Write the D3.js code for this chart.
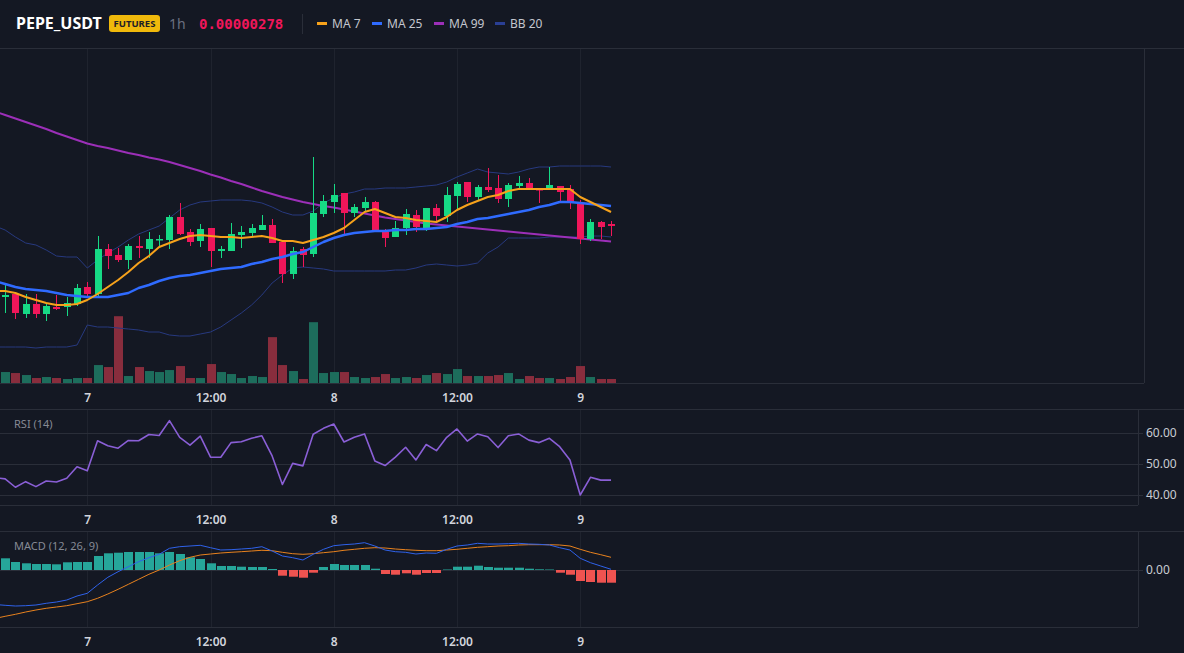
<!DOCTYPE html>
<html>
<head>
<meta charset="utf-8">
<script src="https://cdn.jsdelivr.net/npm/d3@7"></script>
<style>
  html, body { margin: 0; padding: 0; background: #141823; overflow: hidden; }
  svg { display: block; font-family: "Noto Sans", "Open Sans", sans-serif; }
</style>
</head>
<body>
<div id="chart"></div>
<script>
// hourly candles, hour offset from day 7 00:00 (first one is cut by the left edge)
const candleHours = d3.range(-9, 52);

// prices in units of 1e-8 USDT
const open = [270.7, 270.9, 271.2, 269.2, 270.2, 269.2, 269.9, 269.9, 270.2, 271.9, 271.2, 275.7, 275.1, 274.6, 276.0, 275.7, 276.6, 276.6, 278.9, 277.4, 276.5, 277.8, 275.5, 275.5, 277.1, 277.3, 277.6, 278.1, 276.4, 273.2, 275.7, 275.2, 279.2, 280.4, 281.3, 279.3, 279.8, 280.4, 277.4, 276.9, 277.8, 279.1, 277.8, 279.8, 279.0, 281.0, 282.4, 280.9, 281.9, 281.8, 280.7, 282.0, 282.3, 281.7, 281.6, 282.0, 281.7, 280.2, 276.7, 278.4, 278.2];
const high = [272.0, 272.1, 271.3, 271.2, 271.2, 270.2, 271.1, 270.9, 272.2, 272.4, 277.0, 276.2, 275.8, 276.2, 277.0, 277.4, 277.1, 279.1, 280.3, 277.7, 278.2, 277.8, 276.0, 278.3, 278.0, 278.2, 279.1, 278.7, 276.4, 275.9, 275.9, 284.9, 281.1, 282.2, 281.3, 280.2, 280.9, 280.5, 277.7, 278.5, 279.7, 279.6, 279.8, 280.2, 281.9, 282.4, 282.4, 282.1, 283.8, 283.1, 282.3, 283.0, 282.8, 281.8, 283.9, 282.0, 282.1, 280.6, 278.7, 278.5, 278.5];
const low = [270.1, 269.3, 268.7, 268.8, 268.8, 268.5, 269.6, 269.0, 270.0, 270.9, 270.9, 273.7, 274.4, 273.7, 274.8, 274.8, 275.9, 275.7, 277.1, 276.0, 275.9, 273.9, 274.8, 275.5, 275.8, 276.9, 277.6, 276.3, 272.3, 272.7, 273.9, 274.9, 278.9, 279.3, 277.1, 278.9, 279.5, 277.5, 275.9, 276.9, 277.1, 277.4, 277.5, 278.4, 278.4, 279.6, 280.4, 280.6, 281.4, 280.3, 279.9, 281.6, 281.6, 280.3, 281.6, 280.4, 279.7, 276.2, 276.5, 276.7, 277.0];
const close = [271.0, 271.1, 269.3, 270.2, 269.2, 270.0, 269.7, 270.3, 271.8, 271.2, 275.7, 275.0, 274.6, 276.0, 275.8, 276.7, 276.7, 278.9, 277.2, 276.4, 277.7, 275.5, 275.7, 277.2, 277.4, 277.8, 278.1, 276.3, 273.2, 275.5, 275.1, 279.3, 280.5, 281.1, 279.3, 279.9, 280.4, 277.5, 276.8, 277.8, 279.2, 277.9, 279.8, 279.0, 281.1, 282.2, 280.9, 281.9, 281.6, 280.7, 282.1, 282.3, 281.8, 281.6, 282.1, 281.4, 280.4, 276.7, 278.4, 277.9, 278.0];
// volume, hundreds of millions
const volume = [10, 11, 10, 8, 5, 6, 5, 4, 5, 5, 18, 16, 67, 7, 16, 12, 11, 13, 17, 5, 5, 19, 11, 9, 5, 7, 6, 46, 18, 12, 4, 61, 10, 11, 11, 6, 5, 6, 9, 5, 6, 5, 8, 10, 9, 14, 7, 7, 7, 8, 10, 4, 7, 5, 5, 4, 6, 17, 6, 4, 4];

const ma7 = [271.5, 271.5, 271.3, 270.9, 270.6, 270.3, 270.1, 270.1, 270.2, 270.6, 271.2, 271.9, 272.6, 273.4, 274.3, 275.0, 275.9, 276.3, 276.7, 277.0, 277.1, 277.0, 276.9, 276.9, 276.8, 276.9, 277.0, 276.8, 276.5, 276.5, 276.3, 276.6, 276.9, 277.3, 277.8, 278.6, 279.4, 279.7, 279.3, 278.9, 278.8, 278.6, 278.5, 278.4, 278.9, 279.6, 280.1, 280.5, 280.9, 281.1, 281.5, 281.7, 281.7, 281.7, 281.7, 281.7, 281.7, 280.9, 280.4, 279.9, 279.4];
const ma25 = [272.5, 272.2, 271.9, 271.7, 271.6, 271.5, 271.3, 271.1, 271.0, 270.9, 270.9, 270.9, 271.1, 271.3, 271.8, 272.1, 272.5, 272.8, 273.0, 273.1, 273.3, 273.5, 273.7, 273.8, 273.9, 274.2, 274.4, 274.7, 274.9, 275.2, 275.4, 275.9, 276.4, 276.8, 277.1, 277.3, 277.4, 277.5, 277.5, 277.6, 277.6, 277.7, 277.7, 277.8, 277.9, 278.2, 278.4, 278.7, 278.8, 279.0, 279.2, 279.4, 279.6, 279.9, 280.1, 280.4, 280.4, 280.3, 280.2, 280.1, 280.0];
const ma99 = [289.45, 289.1, 288.75, 288.4, 288.05, 287.7, 287.3, 286.95, 286.6, 286.25, 286.0, 285.8, 285.55, 285.3, 285.1, 284.85, 284.65, 284.4, 284.1, 283.8, 283.5, 283.15, 282.85, 282.5, 282.2, 281.85, 281.5, 281.2, 280.9, 280.65, 280.4, 280.2, 280.0, 279.85, 279.65, 279.45, 279.25, 279.05, 278.85, 278.7, 278.55, 278.4, 278.25, 278.15, 278.05, 277.95, 277.85, 277.75, 277.65, 277.55, 277.45, 277.35, 277.25, 277.15, 277.05, 276.95, 276.85, 276.75, 276.65, 276.55, 276.45];
const bbUpper = [278.0, 277.6, 276.9, 276.3, 276.1, 275.6, 275.0, 274.9, 274.9, 273.8, 274.6, 275.3, 275.9, 276.6, 277.2, 277.6, 278.0, 278.8, 279.6, 280.1, 280.4, 280.5, 280.6, 280.6, 280.6, 280.5, 280.3, 279.9, 279.4, 279.1, 279.1, 279.5, 280.3, 280.8, 281.2, 281.4, 281.7, 281.7, 281.8, 281.8, 281.8, 281.9, 282.0, 282.1, 282.4, 282.9, 283.3, 283.7, 283.4, 283.3, 283.2, 283.4, 283.7, 283.9, 283.9, 284.0, 284.0, 284.0, 284.0, 284.0, 283.9];
const bbLower = [265.9, 265.9, 265.9, 265.9, 265.8, 265.9, 265.9, 265.9, 266.1, 268.1, 267.9, 267.9, 267.8, 267.7, 267.6, 267.4, 267.4, 267.1, 267.0, 267.0, 267.2, 267.4, 267.9, 268.6, 269.3, 270.1, 271.1, 272.3, 273.1, 273.8, 273.9, 273.8, 273.7, 273.5, 273.5, 273.5, 273.5, 273.5, 273.5, 273.6, 273.6, 273.8, 274.1, 274.2, 274.1, 274.0, 274.1, 274.3, 275.3, 275.9, 276.8, 276.8, 276.8, 276.8, 276.9, 276.9, 276.9, 276.9, 277.0, 277.0, 276.9];

const rsi = [45.6, 45.2, 42.5, 44.3, 42.7, 44.5, 44.2, 45.4, 49.1, 47.8, 57.5, 55.9, 55.1, 57.6, 57.5, 59.5, 59.2, 64.0, 58.6, 56.1, 59.0, 52.2, 52.2, 56.9, 57.2, 58.3, 59.1, 52.6, 43.4, 50.2, 49.4, 59.6, 61.5, 62.9, 57.1, 58.6, 59.7, 51.0, 49.5, 52.2, 55.4, 51.3, 56.3, 54.3, 58.6, 61.3, 57.4, 59.7, 58.8, 55.3, 59.1, 59.7, 57.7, 56.9, 58.3, 55.6, 51.3, 40.0, 45.7, 44.8, 44.8];

// MACD (12, 26, 9), units of 1e-10
const macd = [-3.45, -3.53, -3.6, -3.57, -3.5, -3.33, -3.2, -3.0, -2.6, -2.33, -1.5, -0.73, -0.17, 0.33, 0.83, 1.23, 1.57, 2.17, 2.33, 2.4, 2.47, 2.23, 2.0, 2.03, 2.1, 2.17, 2.33, 1.9, 1.4, 1.23, 1.0, 1.57, 2.07, 2.43, 2.53, 2.6, 2.73, 2.4, 2.0, 1.83, 1.77, 1.6, 1.7, 1.67, 2.07, 2.4, 2.5, 2.67, 2.6, 2.6, 2.63, 2.67, 2.6, 2.57, 2.5, 2.23, 2.0, 1.17, 0.73, 0.4, 0.07];
const signal = [-4.85, -4.63, -4.43, -4.2, -4.0, -3.83, -3.7, -3.57, -3.37, -3.17, -2.83, -2.4, -1.93, -1.43, -0.93, -0.43, 0.0, 0.5, 0.93, 1.27, 1.5, 1.6, 1.7, 1.77, 1.83, 1.9, 1.97, 1.93, 1.77, 1.63, 1.57, 1.63, 1.73, 1.83, 1.97, 2.07, 2.17, 2.23, 2.2, 2.1, 2.03, 1.97, 1.93, 1.93, 2.0, 2.07, 2.17, 2.27, 2.33, 2.4, 2.43, 2.5, 2.53, 2.53, 2.53, 2.5, 2.4, 2.07, 1.77, 1.53, 1.27];
const hist = [1.2, 1.17, 0.8, 0.67, 0.6, 0.6, 0.57, 0.77, 0.8, 0.8, 1.4, 1.67, 1.73, 1.8, 1.8, 1.8, 1.67, 1.8, 1.6, 1.27, 1.1, 0.67, 0.4, 0.4, 0.33, 0.3, 0.3, 0.1, -0.57, -0.67, -0.77, -0.27, 0.3, 0.6, 0.5, 0.5, 0.5, 0.13, -0.4, -0.47, -0.33, -0.47, -0.3, -0.3, 0.05, 0.33, 0.33, 0.43, 0.3, 0.23, 0.23, 0.23, 0.13, 0.07, 0.05, -0.27, -0.47, -1.1, -1.2, -1.27, -1.27];

const tickHours = [0, 12, 24, 36, 48];
const tickLabels = ["7", "12:00", "8", "12:00", "9"];
const rsiTicks = [40, 50, 60];
const macdTicks = [0];

const legend = [
    {name: "MA 7", color: "#f7a21b"},
    {name: "MA 25", color: "#2f6bff"},
    {name: "MA 99", color: "#9c2fb8"},
    {name: "BB 20", color: "#2a3f94"}
];

const baseTime = new Date(2024, 3, 7, 0, 0);
const toTime = h => new Date(baseTime.getTime() + h * 3600e3);

const width = 1184, height = 653;
const C = {
    bg: "#141823", border: "#2a2e39", grid: "#1f232e", text: "#d1d4dc", muted: "#868a95",
    up: "#16da85", down: "#f0165a", volUp: "#1d6d5c", volDown: "#882d3d",
    histUp: "#26a69a", histDown: "#ef5350"
};

const main = {top: 49, bottom: 383, right: 1144};
const rsiPane = {top: 410, bottom: 505, right: 1138};
const macdPane = {top: 532, bottom: 627, right: 1138};

const rows = candleHours.map((h, i) => ({
    t: toTime(h), o: open[i], h: high[i], l: low[i], c: close[i], v: volume[i],
    ma7: ma7[i], ma25: ma25[i], ma99: ma99[i], up: bbUpper[i], lo: bbLower[i],
    rsi: rsi[i], macd: macd[i], sig: signal[i], hist: hist[i]
}));

const x = d3.scaleTime()
    .domain([toTime(-8.5), toTime(102.9)])
    .range([0, main.right]);

const y = d3.scaleLinear().domain([262.3, 295.7]).range([main.bottom, main.top]);
// volume takes the lowest fifth of the main pane
const yVol = d3.scaleLinear()
    .domain([0, d3.max(volume)])
    .range([main.bottom, main.bottom - (main.bottom - main.top) * 0.2]);
const yRsi = d3.scaleLinear().domain([40, 60]).range([495, 433]);
const yMacd = d3.scaleLinear().domain([-1, 1]).range([580, 560]);

const svg = d3.select("#chart").append("svg")
    .attr("width", width)
    .attr("height", height);

svg.append("rect").attr("width", width).attr("height", height).attr("fill", C.bg);

const defs = svg.append("defs");
function clip(id, p) {
    defs.append("clipPath").attr("id", id)
        .append("rect")
        .attr("x", 0).attr("y", p.top)
        .attr("width", p.right).attr("height", p.bottom - p.top);
    return `url(#${id})`;
}

const tickTimes = tickHours.map(toTime);

function paneFrame(p, fullTop) {
    const g = svg.append("g");
    // vertical grid
    g.selectAll(".vgrid")
        .data(tickTimes)
        .enter().append("line")
        .attr("x1", d => Math.round(x(d)) + 0.5)
        .attr("x2", d => Math.round(x(d)) + 0.5)
        .attr("y1", p.top).attr("y2", p.bottom)
        .attr("stroke", C.grid);

    g.append("line")
        .attr("x1", 0).attr("x2", fullTop ? width : p.right)
        .attr("y1", p.top - 0.5).attr("y2", p.top - 0.5)
        .attr("stroke", C.border);
    g.append("line")
        .attr("x1", p.right + 0.5).attr("x2", p.right + 0.5)
        .attr("y1", p.top).attr("y2", p.bottom)
        .attr("stroke", C.border);
    g.append("line")
        .attr("x1", 0).attr("x2", p.right)
        .attr("y1", p.bottom + 0.5).attr("y2", p.bottom + 0.5)
        .attr("stroke", C.border);

    // time labels under the pane
    const ax = svg.append("g")
        .attr("transform", `translate(0,${p.bottom})`)
        .call(d3.axisBottom(x)
            .tickValues(tickTimes)
            .tickFormat((d, i) => tickLabels[i])
            .tickSize(0)
            .tickPadding(10));
    ax.select(".domain").remove();
    ax.selectAll("text")
        .attr("fill", C.text)
        .style("font-size", "12px")
        .style("font-weight", 600)
        .style("font-family", "'Noto Sans', sans-serif");
    return g;
}

function rightAxis(p, scale, ticks) {
    svg.append("g").selectAll(".hgrid")
        .data(ticks)
        .enter().append("line")
        .attr("x1", 0).attr("x2", p.right)
        .attr("y1", d => Math.round(scale(d)) + 0.5)
        .attr("y2", d => Math.round(scale(d)) + 0.5)
        .attr("stroke", C.border);

    const ax = svg.append("g")
        .attr("transform", `translate(${p.right},0)`)
        .call(d3.axisRight(scale)
            .tickValues(ticks)
            .tickFormat(d3.format(".2f"))
            .tickSize(5)
            .tickPadding(3));
    ax.select(".domain").remove();
    ax.selectAll("line").attr("stroke", C.border);
    ax.selectAll("text")
        .attr("fill", "#c9ccd3")
        .style("font-size", "12px")
        .style("font-family", "'Noto Sans', sans-serif");
}

// ---------- header ----------
svg.append("line")
    .attr("x1", 0).attr("x2", width)
    .attr("y1", 48.5).attr("y2", 48.5)
    .attr("stroke", C.border);

svg.append("text")
    .attr("x", 16).attr("y", 29)
    .attr("fill", "#ffffff")
    .style("font-size", "16px")
    .style("font-weight", 700)
    .text("PEPE_USDT");

svg.append("rect")
    .attr("x", 109).attr("y", 15)
    .attr("width", 51).attr("height", 17)
    .attr("rx", 3)
    .attr("fill", "#f0b90b");
svg.append("text")
    .attr("x", 134.5).attr("y", 27)
    .attr("text-anchor", "middle")
    .attr("fill", "#1e2026")
    .style("font-size", "9.5px")
    .style("font-weight", 700)
    .text("FUTURES");

svg.append("text")
    .attr("x", 169).attr("y", 29)
    .attr("fill", "#6b7080")
    .style("font-size", "14px")
    .text("1h");

svg.append("text")
    .attr("x", 199).attr("y", 29)
    .attr("fill", C.down)
    .style("font-family", "'DejaVu Sans Mono', monospace")
    .style("font-size", "14px")
    .style("font-weight", 700)
    .text("0.0000" + "0278");

svg.append("line")
    .attr("x1", 302.5).attr("x2", 302.5)
    .attr("y1", 14).attr("y2", 34)
    .attr("stroke", C.border);

const legendX = [317, 372, 434, 495];
const lg = svg.append("g").selectAll(".legend")
    .data(legend)
    .enter().append("g")
    .attr("transform", (d, i) => `translate(${legendX[i]},0)`);
lg.append("rect")
    .attr("x", 0).attr("y", 22)
    .attr("width", 10).attr("height", 3)
    .attr("fill", d => d.color);
lg.append("text")
    .attr("x", 15).attr("y", 28)
    .attr("fill", "#c3c6ce")
    .style("font-size", "12px")
    .text(d => d.name);

// ---------- main pane ----------
paneFrame(main, false);
const plot = svg.append("g").attr("clip-path", clip("clip-main", main));

plot.selectAll(".vol")
    .data(rows)
    .enter().append("rect")
    .attr("class", "vol")
    .attr("x", d => Math.round(x(d.t)) - 4)
    .attr("width", 9)
    .attr("y", d => yVol(d.v))
    .attr("height", d => main.bottom - yVol(d.v))
    .attr("fill", d => d.c >= d.o ? C.volUp : C.volDown);

function drawLine(g, key, scale, color, w) {
    g.append("path")
        .datum(rows)
        .attr("fill", "none")
        .attr("stroke", color)
        .attr("stroke-width", w)
        .attr("stroke-linejoin", "round")
        .attr("d", d3.line().x(d => x(d.t)).y(d => scale(d[key])));
}

drawLine(plot, "up", y, "#27397f", 1);
drawLine(plot, "lo", y, "#27397f", 1);
drawLine(plot, "ma99", y, "#9c2fb8", 2);

const candles = plot.selectAll(".candle")
    .data(rows)
    .enter().append("g")
    .attr("class", "candle");

candles.append("line")
    .attr("x1", d => Math.round(x(d.t)) + 0.5)
    .attr("x2", d => Math.round(x(d.t)) + 0.5)
    .attr("y1", d => y(d.h))
    .attr("y2", d => y(d.l))
    .attr("stroke", d => d.c >= d.o ? C.up : C.down);

candles.append("rect")
    .attr("x", d => Math.round(x(d.t)) - 3)
    .attr("width", 7)
    .attr("y", d => y(Math.max(d.o, d.c)))
    .attr("height", d => Math.max(1.5, Math.abs(y(d.o) - y(d.c))))
    .attr("fill", d => d.c >= d.o ? C.up : C.down);

drawLine(plot, "ma25", y, "#2f6bff", 2.5);
drawLine(plot, "ma7", y, "#f7a21b", 2);

// ---------- RSI ----------
paneFrame(rsiPane, true);
rightAxis(rsiPane, yRsi, rsiTicks);
const rsiG = svg.append("g").attr("clip-path", clip("clip-rsi", rsiPane));
drawLine(rsiG, "rsi", yRsi, "#8a5fd6", 1.6);
svg.append("text")
    .attr("x", 14).attr("y", 428)
    .attr("fill", C.muted)
    .style("font-size", "11px")
    .text("RSI (14)");

// ---------- MACD ----------
paneFrame(macdPane, true);
rightAxis(macdPane, yMacd, macdTicks);
const macdG = svg.append("g").attr("clip-path", clip("clip-macd", macdPane));
macdG.selectAll(".hist")
    .data(rows)
    .enter().append("rect")
    .attr("x", d => Math.round(x(d.t)) - 4)
    .attr("width", 9)
    .attr("y", d => Math.min(yMacd(0), yMacd(d.hist)))
    .attr("height", d => Math.abs(yMacd(d.hist) - yMacd(0)))
    .attr("fill", d => d.hist >= 0 ? C.histUp : C.histDown);
drawLine(macdG, "sig", yMacd, "#e8821e", 1);
drawLine(macdG, "macd", yMacd, "#2f62ea", 1);
svg.append("text")
    .attr("x", 14).attr("y", 550)
    .attr("fill", C.muted)
    .style("font-size", "11px")
    .text("MACD (12, 26, 9)");
</script>
</body>
</html>
